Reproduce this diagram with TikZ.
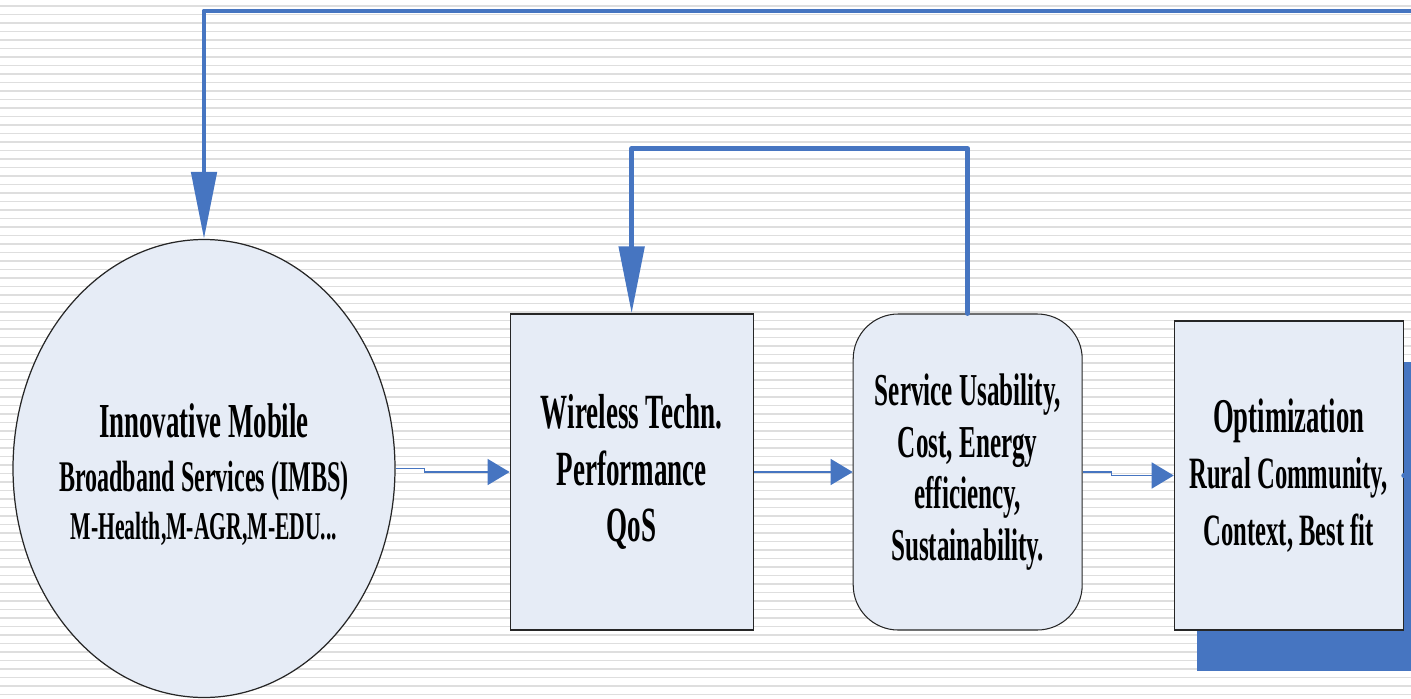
\documentclass[tikz,border=0pt]{standalone}
\usepackage{fontspec}
\newfontfamily\diagfont{Liberation Serif}[FakeStretch=0.55]
\usepackage{tikz}
\usetikzlibrary{shapes.geometric, arrows.meta, positioning, shadows}
\definecolor{loopblue}{RGB}{70, 117, 193}
\definecolor{boxfill}{RGB}{230, 236, 246}
\definecolor{stripegray}{RGB}{222, 222, 222}

\begin{document}
\begin{tikzpicture}[
    node distance=1.98cm,
    service/.style={draw=black!85, fill=boxfill, line width=0.6pt, align=center, inner sep=0pt},
    block/.style={service, rectangle, minimum width=4.86cm, minimum height=6.32cm},
    flow/.style={-{Triangle[length=0.44cm, width=0.52cm]}, loopblue, line width=0.8pt},
    feedback/.style={-{Triangle[length=1.34cm, width=0.5cm]}, loopblue, line width=2.8pt, line join=round, line cap=round}
]
    % Background stripes
    \useasboundingbox (0,0) rectangle (28.22,-13.96);
    \foreach \k in {0,...,81}
        \draw[stripegray, line width=1.1pt] (0,-0.12-0.17*\k) -- (28.22,-0.12-0.17*\k);

    % Nodes
    \node[service, ellipse, minimum width=7.64cm, minimum height=9.16cm, line width=0.7pt] (imbs) at (4.08,-9.37) {};
    \node[align=center, font=\diagfont\bfseries\fontsize{24.9}{31}\selectfont] (imbstext) at ([yshift=-0.12cm]imbs.center)
        {{\fontsize{27.8}{31}\selectfont Innovative Mobile}\\
         Broadband Services (IMBS)\\[-3.5pt]
         {\fontsize{22.4}{27}\selectfont M-Health,M-AGR,M-EDU...}};
    \node[block, right=2.28cm of imbs, yshift=-0.07cm, font=\diagfont\bfseries\fontsize{28}{32}\selectfont] (wireless)
        {Wireless Techn.\\Performance\\QoS};
    \node[service, rounded corners=0.9cm, minimum width=4.58cm, minimum height=6.32cm, right=of wireless,
          font=\diagfont\bfseries\fontsize{26}{29.5}\selectfont] (usability)
        {Service Usability,\\Cost, Energy\\efficiency,\\Sustainability.};
    \node[block, minimum width=4.58cm, minimum height=6.18cm, right=1.82cm of usability, yshift=-0.07cm,
          font=\diagfont\bfseries\fontsize{25.5}{32}\selectfont,
          general shadow={fill=loopblue, shadow xshift=0.46cm, shadow yshift=-0.82cm}] (optim)
        {{\fontsize{27.6}{32}\selectfont Optimization}\\Rural Community,\\Context, Best fit};
    \coordinate (loopin) at (28.6,-0.22);

    % Arrows
    \draw[flow] (imbs.east) -- ++(0.58,0) |- (wireless.west);
    \draw[flow] (wireless) -- (usability);
    \draw[flow] (usability.east) -- ++(0.58,0) |- (optim.west);
    \draw[feedback] (usability.north) -- ++(0,3.3) -| (wireless.north);
    \draw[feedback] (loopin) -| (imbs.north);
    \fill[loopblue] (optim.east) circle (0.05);
\end{tikzpicture}
\end{document}
